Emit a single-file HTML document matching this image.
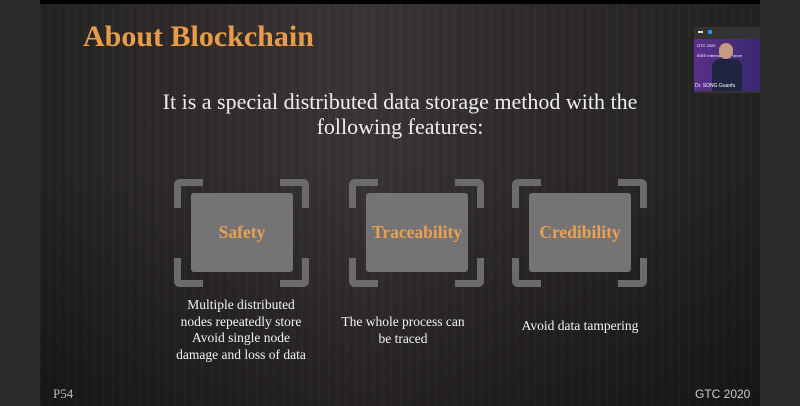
<!DOCTYPE html>
<html><head><style>
body{margin:0;width:800px;height:406px;background:#2b2b2b;position:relative;overflow:hidden;font-family:"Liberation Serif",serif}
#slide{position:absolute;left:40px;top:4px;width:720px;height:402px;background:linear-gradient(90deg,#242222 0%,#2f2b2b 20%,#3a3535 45%,#2e2a2a 70%,#232121 100%)}
#slide:before{content:"";position:absolute;inset:0;background:repeating-linear-gradient(90deg,rgba(255,255,255,0.03) 0 1px,transparent 1px 4px,rgba(0,0,0,0.05) 4px 6px,transparent 6px 9px)}
#slide:after{content:"";position:absolute;inset:0;background:linear-gradient(180deg,rgba(0,0,0,0) 40%,rgba(0,0,0,0.35) 100%)}
.top{position:absolute;left:40px;top:0;width:720px;height:4px;background:#000}
.t{position:absolute;z-index:2}
.title{left:83px;top:20px;font-size:30px;font-weight:bold;color:#e99c48}
.sub{left:100px;width:600px;top:89px;text-align:center;color:#eee;font-size:22px;line-height:25px}
.box{position:absolute;z-index:2;width:135px;height:108px;top:179px}
.c{position:absolute;width:22px;height:22px;border-color:#6b6b6b;border-style:solid;border-width:0}
.tl{left:0;top:0;border-left-width:7px;border-top-width:7px;border-top-left-radius:6px}
.tr{right:0;top:0;border-right-width:7px;border-top-width:7px;border-top-right-radius:6px}
.bl{left:0;bottom:0;border-left-width:7px;border-bottom-width:7px;border-bottom-left-radius:6px}
.br{right:0;bottom:0;border-right-width:7px;border-bottom-width:7px;border-bottom-right-radius:6px}
.in{position:absolute;left:17px;top:14px;width:102px;height:79px;background:#747474;border-radius:3px;display:flex;align-items:center;justify-content:center;color:#eba050;font-weight:bold;font-size:17.5px}
.d{width:180px;text-align:center;color:#f2f2f2;font-size:13.5px;line-height:16.5px}
</style></head><body>
<div id="slide"></div><div class="top"></div>
<div class="t title">About Blockchain</div>
<div class="t sub">It is a special distributed data storage method with the<br>following features:</div>
<div class="box" style="left:174px"><div class="c tl"></div><div class="c tr"></div><div class="c bl"></div><div class="c br"></div><div class="in">Safety</div></div>
<div class="box" style="left:349px"><div class="c tl"></div><div class="c tr"></div><div class="c bl"></div><div class="c br"></div><div class="in">Traceability</div></div>
<div class="box" style="left:512px"><div class="c tl"></div><div class="c tr"></div><div class="c bl"></div><div class="c br"></div><div class="in">Credibility</div></div>
<div class="t d" style="left:151px;top:297px">Multiple distributed<br>nodes repeatedly store<br>Avoid single node<br>damage and loss of data</div>
<div class="t d" style="left:313px;top:314px">The whole process can<br>be traced</div>
<div class="t d" style="left:490px;top:318px">Avoid data tampering</div>
<div class="t" style="left:53px;top:386px;color:#bbb;font-size:13px">P54</div>
<div class="t" style="left:695px;top:387px;color:#ccc;font-size:12px;font-family:'Liberation Sans',sans-serif">GTC 2020</div>
<div class="t" style="left:694px;top:27px;width:66px;height:66px;background:#333">
<div style="position:absolute;left:4px;top:4px;width:5px;height:2px;background:#ddd"></div>
<div style="position:absolute;left:14px;top:3px;width:4px;height:4px;background:#2f8fe0"></div>
<div style="position:absolute;left:0;top:12px;width:66px;height:52px;background:linear-gradient(90deg,#5a2f8a,#3a2a70)">
<div style="position:absolute;left:3px;top:4px;color:#fff;font-size:4px;font-family:'Liberation Sans',sans-serif">GTC 2020<br><br>IEEE International Forum</div>
<div style="position:absolute;left:25px;top:4px;width:14px;height:16px;border-radius:7px;background:#c89a80"></div>
<div style="position:absolute;left:18px;top:20px;width:30px;height:32px;background:#1f2540;border-radius:8px 8px 0 0"></div>
<div style="position:absolute;left:1px;top:44px;color:#fff;font-size:5px;font-family:'Liberation Sans',sans-serif">Dr. SONG Guanfu</div>
</div></div>
</body></html>
